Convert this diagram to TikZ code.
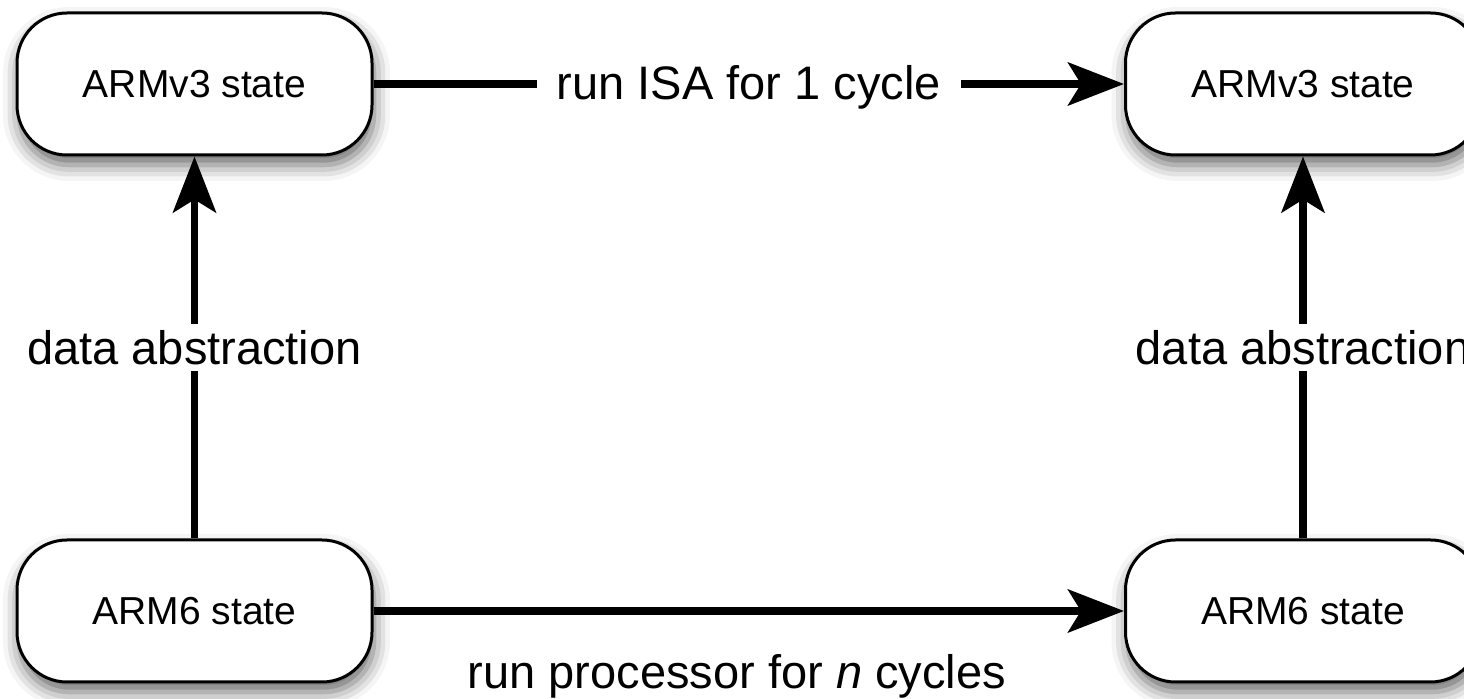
\documentclass[tikz,border=0pt]{standalone}
\usepackage{fontspec}
\setmainfont{Liberation Sans}
\usetikzlibrary{arrows.meta,shadows.blur}

\begin{document}
\begin{tikzpicture}[x=0.5pt,y=-0.5pt,
    statebox/.style={draw,line width=1.5pt,fill=white,rounded corners=25pt,
      minimum width=177.5pt,minimum height=71pt,font=\fontsize{19.5}{22}\selectfont,
      blur shadow={shadow xshift=1pt,shadow yshift=-5pt,shadow blur radius=8pt,shadow opacity=60}},
    link/.style={line width=3.75pt,-{Stealth[length=28pt,width=21.5pt,inset=6.5pt]}},
    lbl/.style={fill=white,font=\fontsize{23.5}{26}\selectfont,inner xsep=10pt,inner ysep=3pt}]
  \useasboundingbox (0,0) rectangle (1464,699);
  % the four states
  \node[statebox] (isaA) at (194.5,84) {ARMv3 state};
  \node[statebox] (isaB) at (1303,84) {ARMv3 state};
  \node[statebox] (cpuA) at (194.5,611) {ARM6 state};
  \node[statebox] (cpuB) at (1303,611) {ARM6 state};
  % steps
  \draw[link] (isaA) -- node[lbl,yshift=-1.5pt] {run ISA for 1 cycle} (isaB);
  \draw[link] (cpuA) -- node[anchor=base,yshift=-39pt,xshift=-6pt,font=\fontsize{23.5}{26}\selectfont]
    {run processor for \textit{n} cycles} (cpuB);
  % abstraction
  \draw[link] (cpuA) -- node[lbl] {data abstraction} (isaA);
  \draw[link] (cpuB) -- node[lbl] {data abstraction} (isaB);
\end{tikzpicture}
\end{document}
